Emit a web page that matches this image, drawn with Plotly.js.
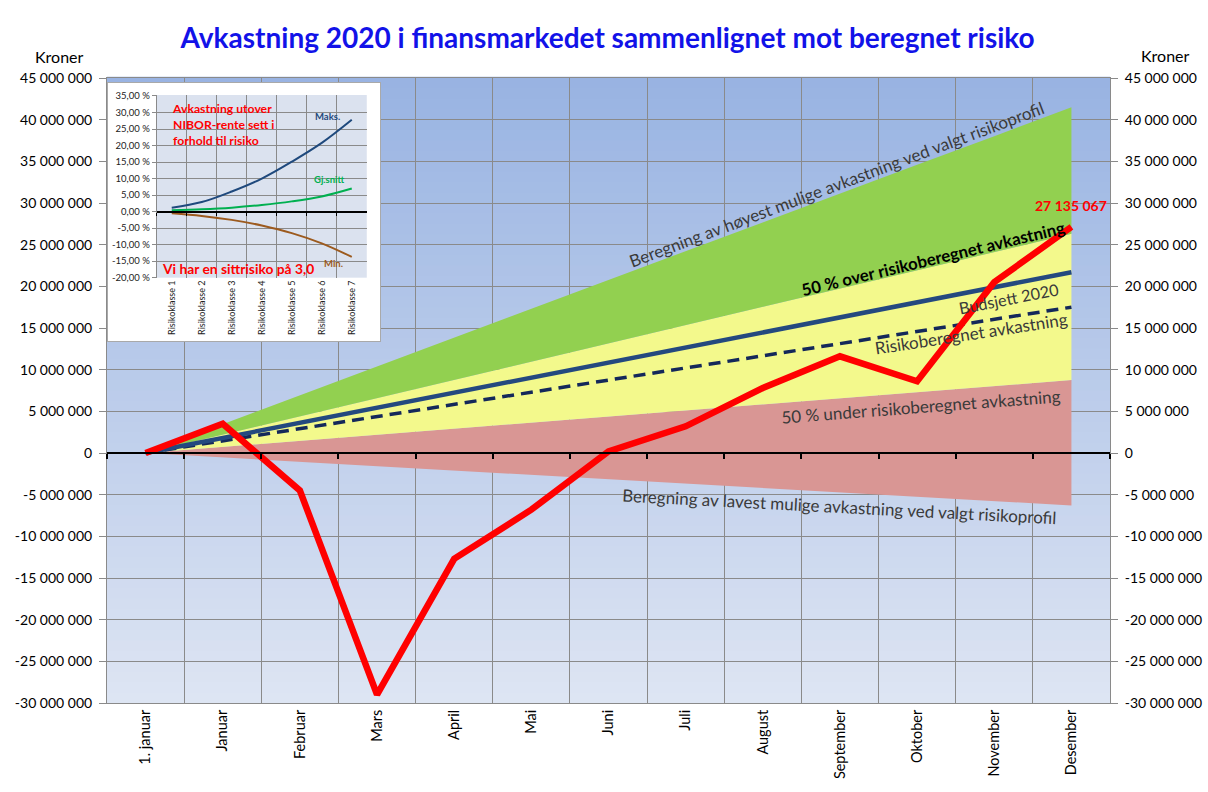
<!DOCTYPE html>
<html>
<head>
<meta charset="utf-8">
<script src="https://cdn.plot.ly/plotly-3.0.1.min.js"></script>
<style>
  html, body { margin: 0; padding: 0; background: #ffffff; }
  #chart { width: 1208px; height: 792px; }
</style>
</head>
<body>
<div id="chart"></div>
<script>
// ---------- Main chart data (kroner) ----------
const months = ['1. januar', 'Januar', 'Februar', 'Mars', 'April', 'Mai', 'Juni',
                'Juli', 'August', 'September', 'Oktober', 'November', 'Desember'];

const actualReturn = [0, 3500000, -4500000, -29000000, -12700000, -6800000, 200000,
                      3200000, 7800000, 11600000, 8600000, 20500000, 27135067];

const budget2020 = [0, 1800000, 3600000, 5400000, 7200000, 9000000, 10900000,
                    12700000, 14500000, 16300000, 18100000, 19900000, 21700000];

const riskReturn = [0, 1460000, 2920000, 4380000, 5830000, 7290000, 8750000,
                    10200000, 11700000, 13100000, 14600000, 16000000, 17500000];

const over50 = [0, 2190000, 4380000, 6560000, 8750000, 10900000, 13100000,
                15300000, 17500000, 19700000, 21900000, 24100000, 26300000];

const under50 = [0, 730000, 1460000, 2190000, 2920000, 3650000, 4380000,
                 5100000, 5830000, 6560000, 7290000, 8020000, 8750000];

const highest = [0, 3460000, 6920000, 10400000, 13800000, 17300000, 20800000,
                 24200000, 27700000, 31100000, 34600000, 38000000, 41500000];

const lowest = [0, -525000, -1050000, -1580000, -2100000, -2630000, -3150000,
                -3680000, -4200000, -4730000, -5250000, -5780000, -6300000];

const yTickVals = [45000000, 40000000, 35000000, 30000000, 25000000, 20000000, 15000000,
                   10000000, 5000000, 0, -5000000, -10000000, -15000000, -20000000,
                   -25000000, -30000000];
const yTickText = ['45 000 000', '40 000 000', '35 000 000', '30 000 000', '25 000 000',
                   '20 000 000', '15 000 000', '10 000 000', '5 000 000', '0',
                   '-5 000 000', '-10 000 000', '-15 000 000', '-20 000 000',
                   '-25 000 000', '-30 000 000'];
const lastLabel = '27 135 067';

// ---------- Inset chart data (%) ----------
const riskClasses = ['Risikoklasse 1', 'Risikoklasse 2', 'Risikoklasse 3', 'Risikoklasse 4',
                     'Risikoklasse 5', 'Risikoklasse 6', 'Risikoklasse 7'];
const insetMax = [1.2, 2.9, 6.1, 10.0, 15.1, 20.8, 27.8];
const insetAvg = [0.4, 0.7, 1.2, 2.0, 3.1, 4.6, 7.0];
const insetMin = [-0.5, -1.3, -2.5, -4.2, -6.5, -9.6, -13.7];
const insetTickVals = [35, 30, 25, 20, 15, 10, 5, 0, -5, -10, -15, -20];
const insetTickText = ['35,00 %', '30,00 %', '25,00 %', '20,00 %', '15,00 %', '10,00 %',
                       '5,00 %', '0,00 %', '-5,00 %', '-10,00 %', '-15,00 %', '-20,00 %'];

// ---------- Styling ----------
const FONT = 'Lato, "Open Sans", sans-serif';
const GRID = '#8a8a8a';
const TXT = '#3a3a3a';

const traces = [
  { x: months, y: lowest, type: 'scatter', mode: 'lines', line: { width: 0 },
    hoverinfo: 'skip', showlegend: false },
  { x: months, y: under50, type: 'scatter', mode: 'lines', line: { width: 0 },
    fill: 'tonexty', fillcolor: '#d99694', hoverinfo: 'skip', showlegend: false },
  { x: months, y: over50, type: 'scatter', mode: 'lines', line: { width: 0 },
    fill: 'tonexty', fillcolor: '#f3f98c', hoverinfo: 'skip', showlegend: false },
  { x: months, y: highest, type: 'scatter', mode: 'lines', line: { width: 0 },
    fill: 'tonexty', fillcolor: '#92d050', hoverinfo: 'skip', showlegend: false },
  { x: months, y: riskReturn, type: 'scatter', mode: 'lines',
    line: { color: '#14285a', width: 3.5, dash: '12px,7px' }, showlegend: false },
  { x: months, y: budget2020, type: 'scatter', mode: 'lines',
    line: { color: '#24497f', width: 4.5 }, showlegend: false },
  { x: months, y: actualReturn, type: 'scatter', mode: 'lines',
    line: { color: '#ff0000', width: 6.5 }, showlegend: false },
  { x: months, y: actualReturn, xaxis: 'x4', yaxis: 'y', type: 'scatter', mode: 'none',
    hoverinfo: 'skip', showlegend: false },
  { x: months, y: actualReturn, xaxis: 'x', yaxis: 'y6', type: 'scatter', mode: 'none',
    hoverinfo: 'skip', showlegend: false },
  { x: riskClasses, y: insetMax, xaxis: 'x3', yaxis: 'y3', type: 'scatter', mode: 'lines',
    line: { color: '#1f497d', width: 2, shape: 'spline' }, showlegend: false },
  { x: riskClasses, y: insetAvg, xaxis: 'x3', yaxis: 'y3', type: 'scatter', mode: 'lines',
    line: { color: '#00b050', width: 2, shape: 'spline' }, showlegend: false },
  { x: riskClasses, y: insetMin, xaxis: 'x3', yaxis: 'y3', type: 'scatter', mode: 'lines',
    line: { color: '#9c5a1e', width: 2, shape: 'spline' }, showlegend: false },
  { x: riskClasses, y: insetMax, xaxis: 'x5', yaxis: 'y3', type: 'scatter', mode: 'none',
    hoverinfo: 'skip', showlegend: false }
];

const shapes = [];
const NBANDS = 60;
const colTop = [152, 179, 226], colBot = [222, 229, 243];
for (let i = 0; i < NBANDS; i++) {
  const t = (i + 0.5) / NBANDS;
  const c = colBot.map((b, k) => Math.round(b + (colTop[k] - b) * t));
  shapes.push({ type: 'rect', xref: 'paper', yref: 'paper', x0: 0, x1: 1,
    y0: i / NBANDS, y1: (i + 1) / NBANDS + 0.002, layer: 'below',
    fillcolor: `rgb(${c[0]},${c[1]},${c[2]})`, line: { width: 0 } });
}
shapes.push({ type: 'rect', xref: 'x2', yref: 'y2', x0: 0, x1: 1, y0: 0, y1: 1,
  layer: 'below', fillcolor: '#ffffff', line: { width: 0 } });

const annFont = { family: FONT, size: 17, color: TXT };
const annotations = [
  { text: 'Kroner', xref: 'paper', yref: 'paper', x: -0.047, y: 1.0336,
    xanchor: 'center', yanchor: 'middle', showarrow: false,
    font: { family: FONT, size: 16, color: '#000' } },
  { text: 'Kroner', xref: 'paper', yref: 'paper', x: 1.0558, y: 1.0368,
    xanchor: 'center', yanchor: 'middle', showarrow: false,
    font: { family: FONT, size: 16, color: '#000' } },
  { text: lastLabel, x: months[12], y: actualReturn[12], xref: 'x', yref: 'y',
    showarrow: false, yshift: 21, font: { family: FONT, size: 14, color: '#ff0000', weight: 'bold' } },
  { text: 'Beregning av høyest mulige avkastning ved valgt risikoprofil', x: 8.95, y: 32200000,
    showarrow: false, textangle: -20.5, font: annFont },
  { text: '50 % over risikoberegnet avkastning', x: 10.2, y: 23400000, showarrow: false,
    textangle: -13.5, font: { family: FONT, size: 16.8, color: '#000', weight: 'bold' } },
  { text: 'Budsjett 2020', x: 11.18, y: 18600000, showarrow: false, textangle: -11,
    font: { family: FONT, size: 16.3, color: TXT } },
  { text: 'Risikoberegnet avkastning', x: 10.7, y: 14300000, showarrow: false,
    textangle: -8.7, font: annFont },
  { text: '50 % under risikoberegnet avkastning', x: 10.05, y: 5600000, showarrow: false,
    textangle: -4.4, font: annFont },
  { text: 'Beregning av lavest mulige avkastning ved valgt risikoprofil', x: 9.0, y: -6400000,
    showarrow: false, textangle: 3, font: annFont },
  { text: 'Avkastning utover<br>NIBOR-rente sett i<br>forhold til risiko', xref: 'x3', yref: 'y3',
    x: -0.05, y: 26.5, xanchor: 'left', align: 'left', showarrow: false,
    font: { family: FONT, size: 12.2, color: '#ff0000', weight: 'bold' } },
  { text: 'Vi har en sittrisiko på 3,0', xref: 'x3', yref: 'y3', x: -0.4, y: -17.1,
    xanchor: 'left', showarrow: false,
    font: { family: FONT, size: 13.8, color: '#ff0000', weight: 'bold' } },
  { text: 'Maks.', xref: 'x3', yref: 'y3', x: 5.18, y: 28.7, showarrow: false,
    font: { family: FONT, size: 9.5, color: '#1f497d', weight: 'bold' } },
  { text: 'Gj.snitt', xref: 'x3', yref: 'y3', x: 5.24, y: 9.7, showarrow: false,
    font: { family: FONT, size: 9.5, color: '#00b050', weight: 'bold' } },
  { text: 'Min.', xref: 'x3', yref: 'y3', x: 5.38, y: -15.6, showarrow: false,
    font: { family: FONT, size: 9.5, color: '#9c5a1e', weight: 'bold' } }
];

const layout = {
  width: 1208, height: 792,
  margin: { l: 107, r: 98, t: 78, b: 89 },
  paper_bgcolor: '#ffffff',
  plot_bgcolor: '#dbe2ef',
  font: { family: FONT, color: '#000' },
  showlegend: false,
  title: { text: 'Avkastning 2020 i finansmarkedet sammenlignet mot beregnet risiko',
    xref: 'container', x: 0.503, y: 0.952, yanchor: 'middle',
    font: { family: FONT, size: 28, color: '#1212e8', weight: 'bold' } },
  xaxis: { type: 'category', categoryorder: 'array', categoryarray: months,
    range: [-0.5, 12.5], tickson: 'boundaries', showgrid: true, gridcolor: GRID, gridwidth: 1,
    ticks: '', tickangle: -90, tickfont: { family: FONT, size: 14.5, color: '#000' },
    showline: true, linecolor: GRID, mirror: true, zeroline: false, fixedrange: true },
  yaxis: { range: [-30000000, 45000000], tickvals: yTickVals, ticktext: yTickText,
    showgrid: true, gridcolor: GRID, gridwidth: 1, zeroline: false,
    ticks: 'outside', ticklen: 7, tickcolor: GRID, showline: true, linecolor: GRID,
    tickfont: { family: FONT, size: 14, color: '#000' }, ticklabelstandoff: 4 },
  yaxis6: { overlaying: 'y', side: 'right', anchor: 'x', range: [-30000000, 45000000],
    tickvals: yTickVals, ticktext: yTickText, showgrid: false, zeroline: false,
    ticks: 'outside', ticklen: 7, tickcolor: GRID, showline: true, linecolor: GRID,
    tickfont: { family: FONT, size: 14, color: '#000' }, ticklabelstandoff: 4 },
  xaxis4: { overlaying: 'x', anchor: 'free', position: 0.4, type: 'category',
    categoryorder: 'array', categoryarray: months, range: [-0.5, 12.5], tickson: 'boundaries',
    showgrid: false, zeroline: false, showticklabels: false, ticks: 'outside', ticklen: 5,
    tickwidth: 2, tickcolor: '#000', showline: true, linecolor: '#000', linewidth: 2 },
  xaxis2: { domain: [0.001, 0.2725], anchor: 'y2', range: [0, 1], showgrid: false,
    zeroline: false, showticklabels: false, ticks: '', showline: true, mirror: true,
    linecolor: '#a9a9a9', linewidth: 1 },
  yaxis2: { domain: [0.5792, 0.992], anchor: 'x2', range: [0, 1], showgrid: false,
    zeroline: false, showticklabels: false, ticks: '', showline: true, mirror: true,
    linecolor: '#a9a9a9', linewidth: 1 },
  xaxis3: { domain: [0.0496, 0.2590], anchor: 'y3', type: 'category', categoryorder: 'array',
    categoryarray: riskClasses, range: [-0.5, 6.5], tickson: 'boundaries', showgrid: true,
    gridcolor: GRID, gridwidth: 1, ticks: '', tickangle: -90,
    tickfont: { family: FONT, size: 9, color: '#222' }, zeroline: false, showline: false },
  yaxis3: { domain: [0.6805, 0.9728], anchor: 'x3', range: [-20, 35.3], tickvals: insetTickVals,
    ticktext: insetTickText, showgrid: true, gridcolor: GRID, gridwidth: 1, zeroline: false,
    ticks: 'outside', ticklen: 4, tickcolor: GRID, showline: true, linecolor: GRID,
    tickfont: { family: FONT, size: 9.5, color: '#222' } },
  xaxis5: { overlaying: 'x3', anchor: 'free', position: 0.7869, type: 'category',
    categoryorder: 'array', categoryarray: riskClasses, range: [-0.5, 6.5], tickson: 'boundaries',
    showgrid: false, zeroline: false, showticklabels: false, ticks: 'outside', ticklen: 3,
    tickwidth: 1, tickcolor: '#000', showline: true, linecolor: '#000', linewidth: 1.5 },
  shapes: shapes,
  annotations: annotations
};

Plotly.newPlot('chart', traces, layout, { displayModeBar: false, staticPlot: true });
</script>
</body>
</html>
